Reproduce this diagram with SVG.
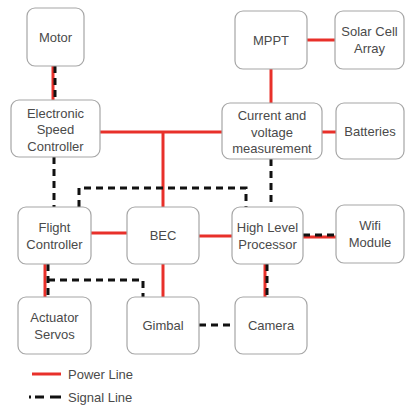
<svg xmlns="http://www.w3.org/2000/svg" width="407" height="408" viewBox="0 0 407 408">
<style>
.box{fill:#fff;stroke:#a6a6a6;stroke-width:1.2}
text{font-family:"Liberation Sans",Arial,sans-serif;font-size:13px;fill:#4a4a4a;text-anchor:middle}
.pw{stroke:#e8302a;stroke-width:3;fill:none}
.sg{stroke:#111;stroke-width:3;fill:none;stroke-dasharray:7,5}
</style>
<rect width="407" height="408" fill="#fff"/>
<g id="connectors">
<line class="pw" x1="53" y1="66" x2="53" y2="100"/>
<line class="sg" x1="55" y1="66" x2="55" y2="100"/>
<line class="pw" x1="100" y1="132" x2="222" y2="132"/>
<line class="pw" x1="163" y1="132" x2="163" y2="207"/>
<line class="pw" x1="307" y1="40" x2="335" y2="40"/>
<line class="pw" x1="271" y1="69" x2="271" y2="103"/>
<line class="pw" x1="322" y1="132" x2="336" y2="132"/>
<line class="sg" x1="54" y1="157" x2="54" y2="207"/>
<polyline class="sg" points="79,207 79,188 246,188 246,207"/>
<line class="sg" x1="271" y1="159" x2="271" y2="207"/>
<line class="pw" x1="91" y1="233" x2="127" y2="233"/>
<line class="pw" x1="199" y1="236" x2="232" y2="236"/>
<line class="pw" x1="303" y1="237" x2="336" y2="237"/>
<line class="sg" x1="303" y1="235" x2="336" y2="235"/>
<line class="pw" x1="45" y1="264" x2="45" y2="297"/>
<line class="sg" x1="48" y1="264" x2="48" y2="297"/>
<polyline class="sg" points="48,280 143,280 143,297"/>
<line class="pw" x1="163" y1="264" x2="163" y2="297"/>
<line class="pw" x1="265" y1="264" x2="265" y2="297"/>
<line class="sg" x1="267" y1="264" x2="267" y2="297"/>
<line class="sg" x1="199" y1="325" x2="235" y2="325"/>
</g>
<g id="motor"><rect class="box" x="27" y="8" width="57" height="58" rx="8"/><text x="55.5" y="41.5">Motor</text></g>
<g id="esc"><rect class="box" x="11" y="100" width="89" height="57" rx="8"/><text x="55.5" y="117.5">Electronic</text><text x="55.5" y="134">Speed</text><text x="55.5" y="150.5">Controller</text></g>
<g id="mppt"><rect class="box" x="235" y="11" width="72" height="58" rx="8"/><text x="271" y="44.5">MPPT</text></g>
<g id="solar"><rect class="box" x="335" y="11" width="69" height="58" rx="8"/><text x="369.5" y="36">Solar Cell</text><text x="369.5" y="52.5">Array</text></g>
<g id="current"><rect class="box" x="222" y="103" width="100" height="56" rx="8"/><text x="272" y="120">Current and</text><text x="272" y="136.5">voltage</text><text x="272" y="153">measurement</text></g>
<g id="batteries"><rect class="box" x="336" y="103" width="68" height="56" rx="8"/><text x="370" y="136">Batteries</text></g>
<g id="fc"><rect class="box" x="18" y="207" width="73" height="57" rx="8"/><text x="54.5" y="232">Flight</text><text x="54.5" y="248.5">Controller</text></g>
<g id="bec"><rect class="box" x="127" y="207" width="72" height="57" rx="8"/><text x="163" y="240">BEC</text></g>
<g id="hlp"><rect class="box" x="232" y="207" width="71" height="57" rx="8"/><text x="267.5" y="232">High Level</text><text x="267.5" y="248.5">Processor</text></g>
<g id="wifi"><rect class="box" x="336" y="205" width="68" height="58" rx="8"/><text x="370" y="230">Wifi</text><text x="370" y="246.5">Module</text></g>
<g id="servos"><rect class="box" x="18" y="297" width="73" height="57" rx="8"/><text x="54.5" y="322">Actuator</text><text x="54.5" y="338.5">Servos</text></g>
<g id="gimbal"><rect class="box" x="127" y="297" width="72" height="57" rx="8"/><text x="163" y="330">Gimbal</text></g>
<g id="camera"><rect class="box" x="235" y="297" width="72" height="57" rx="8"/><text x="271" y="330">Camera</text></g>
<g id="legend">
<line class="pw" x1="32" y1="374" x2="61" y2="374"/>
<line class="sg" x1="29" y1="397" x2="61" y2="397" style="stroke-dasharray:2,4,9,6,11,40"/>
<text x="68" y="379" style="text-anchor:start">Power Line</text>
<text x="68" y="402" style="text-anchor:start">Signal Line</text>
</g>
</svg>
